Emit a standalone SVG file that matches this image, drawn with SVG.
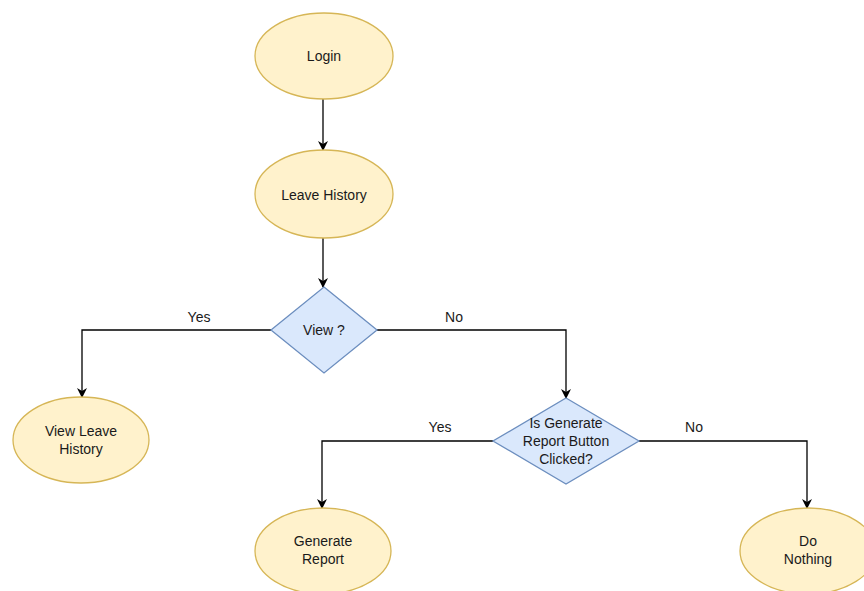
<svg xmlns="http://www.w3.org/2000/svg" width="864" height="591" viewBox="0 0 864 591">
  <style>
    .term { fill: #fff2cc; stroke: #d6b656; stroke-width: 1.3; }
    .dec { fill: #dae8fc; stroke: #6c8ebf; stroke-width: 1.3; }
    .lbl { font-family: "Liberation Sans", Arial, sans-serif; font-size: 14px; fill: #1a1a1a; text-anchor: middle; dominant-baseline: central; }
    .edge { fill: none; stroke: #000; stroke-width: 1.3; marker-end: url(#arrow); }
  </style>
  <defs>
    <marker id="arrow" viewBox="0 0 10 10" refX="9" refY="5" markerWidth="10" markerHeight="10" markerUnits="userSpaceOnUse" orient="auto">
      <path d="M0,0 L10,5 L0,10 L3,5 Z" fill="#000"/>
    </marker>
  </defs>
  <rect width="864" height="591" fill="#fff"/>

  <g id="connectors">
    <path class="edge" d="M323,99 V150"/>
    <path class="edge" d="M323,238 V287"/>
    <path class="edge" d="M271,330 H82 V397"/>
    <path class="edge" d="M377,330 H566 V398"/>
    <path class="edge" d="M493,441 H322 V508"/>
    <path class="edge" d="M639,441 H807 V508"/>
    <text class="lbl" x="199" y="317">Yes</text>
    <text class="lbl" x="454" y="317">No</text>
    <text class="lbl" x="440" y="427">Yes</text>
    <text class="lbl" x="694" y="427">No</text>
  </g>

  <g id="login">
    <ellipse class="term" cx="324" cy="56" rx="69" ry="43"/>
    <text class="lbl" x="324" y="56">Login</text>
  </g>
  <g id="leave-history">
    <ellipse class="term" cx="324" cy="194" rx="69" ry="44"/>
    <text class="lbl" x="324" y="195">Leave History</text>
  </g>
  <g id="view">
    <polygon class="dec" points="324,287 377,330 324,373 271,330"/>
    <text class="lbl" x="324" y="330">View ?</text>
  </g>
  <g id="view-leave-history">
    <ellipse class="term" cx="81" cy="440" rx="68" ry="43"/>
    <text class="lbl" x="81" y="431">View Leave</text>
    <text class="lbl" x="81" y="449">History</text>
  </g>
  <g id="generate-clicked">
    <polygon class="dec" points="566,398 639,441 566,484 493,441"/>
    <text class="lbl" x="566" y="423">Is Generate</text>
    <text class="lbl" x="566" y="441">Report Button</text>
    <text class="lbl" x="566" y="459">Clicked?</text>
  </g>
  <g id="generate-report">
    <ellipse class="term" cx="323" cy="551" rx="68" ry="43"/>
    <text class="lbl" x="323" y="541">Generate</text>
    <text class="lbl" x="323" y="559">Report</text>
  </g>
  <g id="do-nothing">
    <ellipse class="term" cx="808" cy="551" rx="68" ry="43"/>
    <text class="lbl" x="808" y="541">Do</text>
    <text class="lbl" x="808" y="559">Nothing</text>
  </g>
</svg>
